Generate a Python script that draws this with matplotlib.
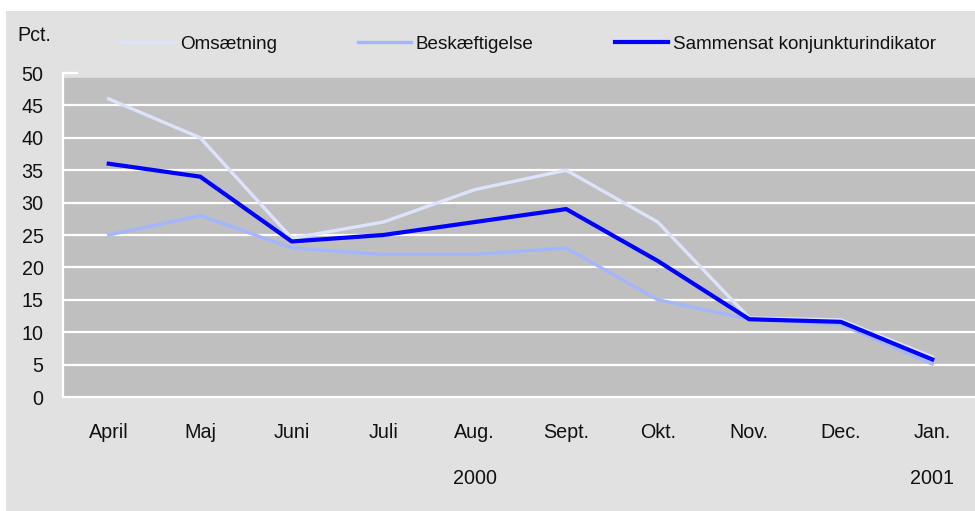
import matplotlib

matplotlib.use("Agg")
import matplotlib.pyplot as plt
from matplotlib.patches import Rectangle

plt.rcParams["font.family"] = ["Liberation Sans", "DejaVu Sans"]

months = ["April", "Maj", "Juni", "Juli", "Aug.", "Sept.", "Okt.", "Nov.", "Dec.", "Jan."]
omsaetning = [46, 40, 24.5, 27, 32, 35, 27, 12.2, 11.9, 6.2]
beskaeftigelse = [25, 28, 23, 22, 22, 23, 15, 12, 11.2, 5.1]
konjunktur = [36, 34, 24, 25, 27, 29, 21, 12, 11.6, 5.8]
yticks = [0, 5, 10, 15, 20, 25, 30, 35, 40, 45, 50]
years = [("2000", 4), ("2001", 9)]

W, H = 975, 511
FS = 14.2
LEG_FS = 13.6
TXT = "#111111"

fig = plt.figure(figsize=(W / 100, H / 100), dpi=100)
fig.patch.set_facecolor("white")
fig.patches.append(Rectangle((6 / W, 0), 1, 1 - 11 / H, transform=fig.transFigure,
                             facecolor="#e1e1e1", edgecolor="none", zorder=-10))

ax = fig.add_axes([63 / W, 114 / H, 915 / W, 324 / H])
ax.set_facecolor("#e1e1e1")
ax.axhspan(0, 49.2, color="#bfbfbf", zorder=0)
for v in yticks[1:-1]:
    ax.axhline(v, color="white", lw=1.6, zorder=1)
ax.plot([0, 0.015], [50, 50], color="white", lw=1.6, transform=ax.get_yaxis_transform(),
        clip_on=False, zorder=1)

x = range(len(months))
ax.plot(x, omsaetning, color="#dde3fa", lw=2.4, label="Omsætning", zorder=3)
ax.plot(x, beskaeftigelse, color="#a3b5ff", lw=2.4, label="Beskæftigelse", zorder=3)
ax.plot(x, konjunktur, color="#0000ff", lw=3.0, label="Sammensat konjunkturindikator", zorder=4)

ax.set_xlim(-0.5, 9.5)
ax.set_ylim(0, 50)
ax.set_yticks(yticks)
ax.set_xticks(list(x))
ax.set_xticklabels(months)
ax.tick_params(axis="both", length=0, labelsize=FS, colors=TXT)
ax.tick_params(axis="y", pad=14)
ax.tick_params(axis="x", pad=19)
for s in ["top", "right"]:
    ax.spines[s].set_visible(False)
for s in ["left", "bottom"]:
    ax.spines[s].set_color("white")
    ax.spines[s].set_linewidth(1.6)

for label, pos in years:
    ax.text(pos, -0.25, label, transform=ax.get_xaxis_transform(), ha="center", va="center",
            fontsize=FS, color=TXT)

fig.text(34 / W, 1 - 35 / H, "Pct.", ha="center", va="center", fontsize=FS, color=TXT)

ax.legend(loc="center left", bbox_to_anchor=(122 / W, 1 - 44 / H), bbox_transform=fig.transFigure,
          ncol=3, frameon=False, fontsize=LEG_FS, handlelength=2.8, handletextpad=0.26,
          columnspacing=4.3, borderpad=0, borderaxespad=0, labelcolor=TXT)

fig.savefig("out.png", dpi=100)
